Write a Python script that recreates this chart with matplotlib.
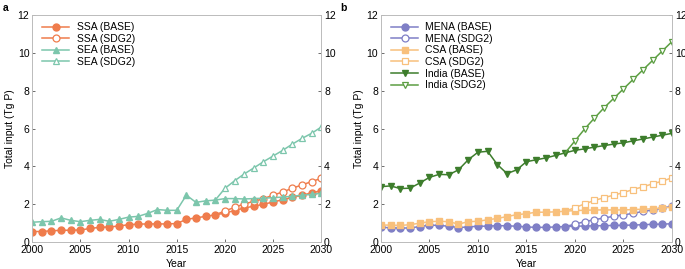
import matplotlib
matplotlib.use("Agg")
import matplotlib.pyplot as plt
import numpy as np

# ── Data ──────────────────────────────────────────────────────────────────────
years = np.arange(2000, 2031)
years_sdg = np.arange(2020, 2031)

ssa_base = [0.56, 0.56, 0.60, 0.62, 0.63, 0.64, 0.72, 0.78, 0.80, 0.85,
            0.92, 0.95, 0.96, 0.96, 0.96, 0.98, 1.20, 1.28, 1.36, 1.44,
            1.53, 1.67, 1.80, 1.90, 2.00, 2.12, 2.24, 2.36, 2.48, 2.60, 2.72]
ssa_sdg2 = [1.65, 1.83, 2.02, 2.15, 2.30, 2.48, 2.65, 2.85, 3.02, 3.20, 3.37]

sea_base = [1.05, 1.08, 1.10, 1.28, 1.15, 1.08, 1.15, 1.20, 1.10, 1.20,
            1.32, 1.36, 1.52, 1.72, 1.68, 1.68, 2.48, 2.10, 2.18, 2.22,
            2.30, 2.30, 2.28, 2.30, 2.32, 2.35, 2.38, 2.42, 2.48, 2.52, 2.58]
sea_sdg2 = [2.84, 3.24, 3.60, 3.92, 4.25, 4.55, 4.85, 5.18, 5.48, 5.75, 6.08]

mena_base = [0.78, 0.76, 0.74, 0.75, 0.82, 0.90, 0.88, 0.84, 0.77, 0.80,
             0.84, 0.84, 0.87, 0.86, 0.84, 0.80, 0.78, 0.78, 0.80, 0.82,
             0.84, 0.85, 0.86, 0.87, 0.88, 0.89, 0.90, 0.92, 0.94, 0.95, 0.97]
mena_sdg2 = [0.95, 1.08, 1.18, 1.28, 1.36, 1.44, 1.52, 1.62, 1.70, 1.80, 1.90]

csa_base = [0.90, 0.90, 0.88, 0.92, 1.00, 1.08, 1.10, 1.08, 0.95, 1.08,
            1.10, 1.18, 1.25, 1.35, 1.45, 1.50, 1.58, 1.58, 1.60, 1.63,
            1.67, 1.68, 1.70, 1.70, 1.70, 1.70, 1.72, 1.74, 1.76, 1.80, 1.85]
csa_sdg2 = [1.82, 2.02, 2.20, 2.35, 2.48, 2.62, 2.78, 2.92, 3.08, 3.22, 3.40]

india_base = [2.93, 2.97, 2.83, 2.85, 3.12, 3.42, 3.58, 3.56, 3.82, 4.35,
              4.75, 4.80, 4.10, 3.62, 3.82, 4.25, 4.35, 4.45, 4.58, 4.72,
              4.85, 4.93, 5.02, 5.10, 5.18, 5.25, 5.35, 5.45, 5.55, 5.65, 5.75]
india_sdg2 = [5.35, 5.98, 6.55, 7.10, 7.60, 8.10, 8.60, 9.10, 9.60, 10.10, 10.60]

# SDG2 lines branch off from the 2019 base value
def branch(base, sdg):
    return np.concatenate([[2019], years_sdg]), [base[19]] + list(sdg)

# (label, years, values, color, marker, filled)
panel_a = [
    ("SSA (BASE)", years, ssa_base, "#ef7c4c", "o", True),
    ("SSA (SDG2)", *branch(ssa_base, ssa_sdg2), "#ef7c4c", "o", False),
    ("SEA (BASE)", years, sea_base, "#7cc6ac", "^", True),
    ("SEA (SDG2)", *branch(sea_base, sea_sdg2), "#7cc6ac", "^", False),
]
panel_b = [
    ("MENA (BASE)", years, mena_base, "#7f7fc6", "o", True),
    ("MENA (SDG2)", *branch(mena_base, mena_sdg2), "#7f7fc6", "o", False),
    ("CSA (BASE)", years, csa_base, "#f8c07c", "s", True),
    ("CSA (SDG2)", *branch(csa_base, csa_sdg2), "#f8c07c", "s", False),
    ("India (BASE)", years, india_base, "#3d7d2c", "v", True),
    ("India (SDG2)", *branch(india_base, india_sdg2), "#5c9e42", "v", False),
]

plt.rcParams["font.family"] = ["Liberation Sans", "DejaVu Sans"]

fig = plt.figure(figsize=(6.85, 2.69), dpi=100)
ax_a = fig.add_axes([0.047, 0.100, 0.422, 0.844])
ax_b = fig.add_axes([0.556, 0.100, 0.425, 0.844])

for ax, series, lab, lx in [(ax_a, panel_a, "a", 0.004), (ax_b, panel_b, "b", 0.497)]:
    for name, x, y, col, mk, filled in series:
        ms = 5.0 if mk != "s" else 4.0
        if filled:
            ax.plot(x, y, color=col, lw=1.1, marker=mk, ms=ms,
                    markerfacecolor=col, markeredgecolor=col, label=name)
        else:
            ax.plot(x, y, color=col, lw=1.1, marker=mk, ms=ms,
                    markerfacecolor="white", markeredgecolor=col, markeredgewidth=0.9,
                    markevery=list(range(1, len(x))), label=name)
    ax.set_xlim(2000, 2030)
    ax.set_ylim(0, 12)
    ax.set_xticks(range(2000, 2031, 5))
    ax.set_yticks(range(0, 13, 2))
    ax.tick_params(axis="both", which="both", direction="in", length=2.5, width=0.6,
                   labelsize=7.5, pad=2, color="#555555",
                   left=True, right=True, labelleft=True, labelright=True)
    for sp in ax.spines.values():
        sp.set_color("#bbbbbb")
        sp.set_linewidth(0.7)
    ax.set_ylabel("Total input (Tg P)", fontsize=7.5, labelpad=2)
    ax.set_xlabel("Year", fontsize=7.5, labelpad=3)
    ax.legend(loc="upper left", frameon=False, fontsize=7.5, handlelength=2.6,
              borderaxespad=0.3, labelspacing=0.15, handletextpad=0.7,
              bbox_to_anchor=(0.01, 1.0))
    fig.text(lx, 0.99, lab, fontsize=7.5, fontweight="bold", va="top", ha="left")

plt.savefig("out.png", dpi=100)
plt.close()
